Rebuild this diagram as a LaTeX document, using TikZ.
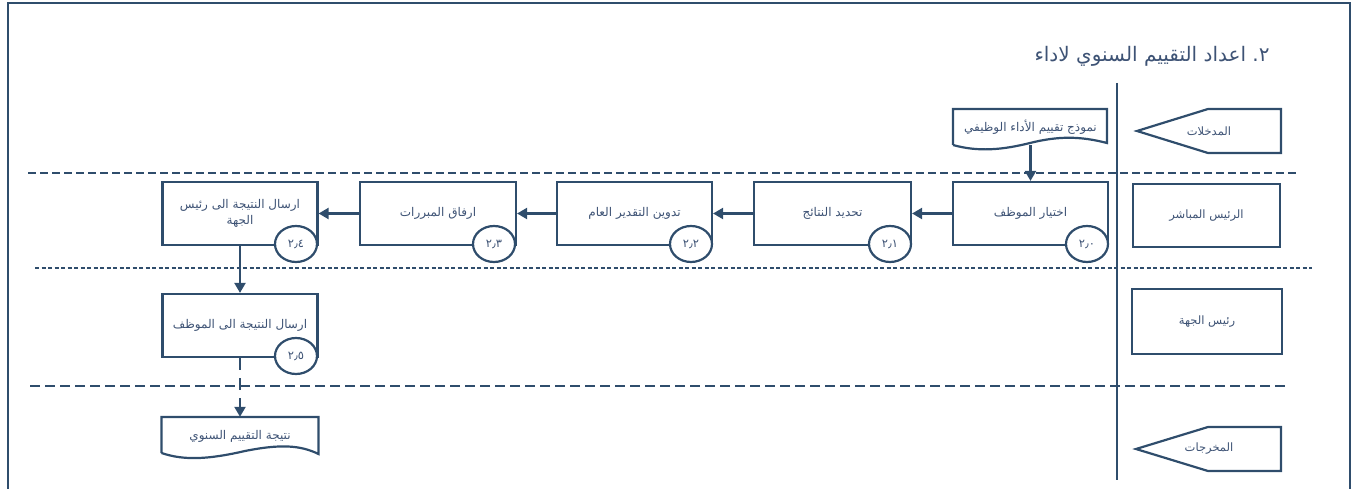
\documentclass[tikz,border=0pt]{standalone}
\usepackage{fontspec}
\setmainfont{DejaVu Sans}
\newfontfamily\arabicfont[Script=Arabic]{DejaVu Sans}
\TeXXeTstate=1
\usetikzlibrary{arrows.meta,shapes.geometric}
\definecolor{ln}{HTML}{2F4D6C}
\definecolor{tx}{HTML}{3E5375}
\newcommand{\artxt}[1]{{\arabicfont\beginR #1\endR}}
\tikzset{
  proc/.style={draw=ln, line width=2.2pt, minimum width=155pt, minimum height=63pt,
    inner sep=0pt, text=tx, font=\arabicfont\fontsize{12}{15}\selectfont, align=center},
  lanebox/.style={draw=ln, line width=2.2pt, inner sep=0pt, text=tx,
    font=\arabicfont\fontsize{11.5}{14}\selectfont},
  numc/.style={ellipse, draw=ln, line width=2.2pt, fill=white, minimum width=42pt,
    minimum height=36pt, inner sep=0pt, text=tx, font=\arabicfont\fontsize{11.5}{13}\selectfont},
  docn/.style={inner sep=0pt, text=tx, font=\arabicfont\fontsize{12}{15}\selectfont},
  shp/.style={draw=ln, line width=2.2pt, line join=miter},
  conn/.style={draw=ln, line width=2.2pt, -{Triangle[length=10pt,width=11pt]}},
  lanetxt/.style={inner sep=0pt, text=tx, font=\arabicfont\fontsize{11.5}{14}\selectfont}
}
\begin{document}
\begin{tikzpicture}[x=1pt,y=-1pt]
\useasboundingbox (0,0) rectangle (1360,489);
% frame
\draw[ln, line width=2.2pt] (8,489) -- (8,3) -- (1350,3) -- (1350,489);
% title
\node[text=tx, font=\arabicfont\fontsize{20}{24}\selectfont, inner sep=0pt] (title) at (1152,56)
  {\artxt{اعداد التقييم السنوي لاداء} ٢.};
% vertical separator
\draw[ln, line width=2.6pt] (1117,83) -- (1117,480);
% lane lines
\draw[ln, line width=2.2pt, dash pattern=on 8pt off 4pt] (28,173) -- (1298,173);
\draw[ln, line width=2.2pt, dash pattern=on 4pt off 2.5pt] (35,268) -- (1312,268);
\draw[ln, line width=2.2pt, dash pattern=on 10pt off 5pt] (30,386) -- (1285,386);

% lane labels
\draw[shp] (1137,131) -- (1208,109) -- (1281,109) -- (1281,153) -- (1208,153) -- cycle;
\node[lanetxt] (lin) at (1209,131) {\artxt{المدخلات}};
\node[lanebox, minimum width=147pt, minimum height=63pt] (l1) at (1206.5,215.5) {\artxt{الرئيس المباشر}};
\node[lanebox, minimum width=150pt, minimum height=65pt] (l2) at (1207,321.5) {\artxt{رئيس الجهة}};
\draw[shp] (1136,449) -- (1208,427) -- (1281,427) -- (1281,471) -- (1208,471) -- cycle;
\node[lanetxt] (lout) at (1209,449) {\artxt{المخرجات}};

% input document
\node[docn, minimum width=154pt, minimum height=36pt] (d0) at (1030.5,127) {\raisebox{2pt}{\artxt{نموذج تقييم الأداء الوظيفي}}};
\draw[shp] (953,145) -- (953,109) -- (1107,109) -- (1107,143)
  .. controls (1080,136) and (1058,136) .. (1030,143)
  .. controls (1002,150) and (978,152) .. (953,145);

% process boxes
\node[proc] (p0) at (1030.5,213.5) {\artxt{اختيار الموظف}};
\node[proc, minimum width=157pt] (p1) at (832.5,213.5) {\artxt{تحديد النتائج}};
\node[proc] (p2) at (634.5,213.5) {\artxt{تدوين التقدير العام}};
\node[proc, minimum width=156pt] (p3) at (438,213.5) {\artxt{ارفاق المبررات}};
\node[proc] (p4) at (240,213.5) {\begin{tabular}{c}\artxt{ارسال النتيجة الى رئيس}\\[1pt]\artxt{الجهة}\end{tabular}};
\node[proc] (p5) at (240,325.5) {\artxt{ارسال النتيجة الى الموظف}};

% number circles
\node[numc] (c0) at (1087,244) {{\arabicfont ٢٫٠}};
\node[numc] (c1) at (890,244) {{\arabicfont ٢٫١}};
\node[numc] (c2) at (691,244) {{\arabicfont ٢٫٢}};
\node[numc] (c3) at (494,244) {{\arabicfont ٢٫٣}};
\node[numc] (c4) at (296,244) {{\arabicfont ٢٫٤}};
\node[numc] (c5) at (296,356) {{\arabicfont ٢٫٥}};

% output document
\node[docn, minimum width=157pt, minimum height=38pt] (d1) at (240,436) {\raisebox{3pt}{\artxt{نتيجة التقييم السنوي}}};
\draw[shp] (161.5,453) -- (161.5,417) -- (318.5,417) -- (318.5,454)
  .. controls (300,445) and (280,444) .. (245,451)
  .. controls (210,459) and (185,461) .. (161.5,453);

% connectors
\draw[conn] (d0.south) -- (p0.north);
\draw[conn] (p0.west) -- (p1.east);
\draw[conn] (p1.west) -- (p2.east);
\draw[conn] (p2.west) -- (p3.east);
\draw[conn] (p3.west) -- (p4.east);
\draw[conn] (p4.south) -- (p5.north);
\draw[conn, dash pattern=on 12pt off 8pt] (p5.south) -- (d1.north);
\end{tikzpicture}
\end{document}
